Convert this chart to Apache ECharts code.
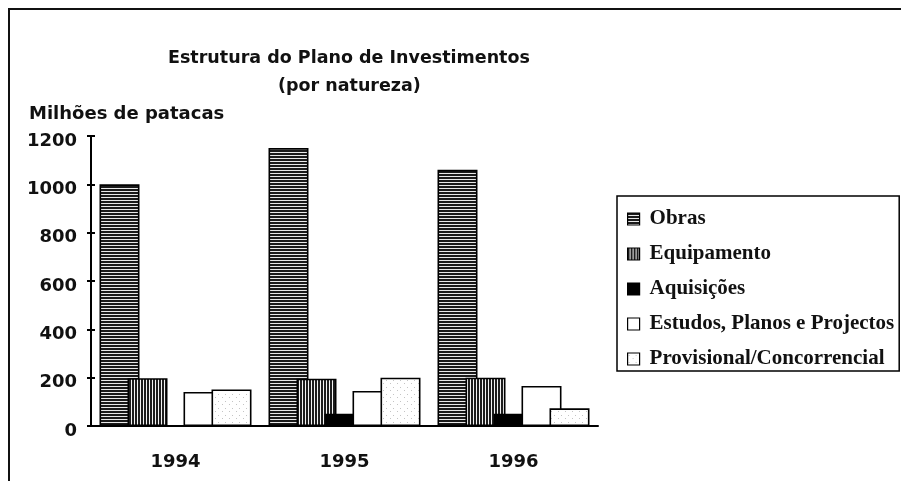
<html>
<head>
<meta charset="utf-8">
<title>Estrutura do Plano de Investimentos</title>
<script src="https://cdn.jsdelivr.net/npm/echarts@6/dist/echarts.min.js"></script>
<style>
  html, body { margin: 0; padding: 0; background: #fff; }
  #chart { width: 901px; height: 481px; }
</style>
</head>
<body>
<div id="chart"></div>
<script type="text/javascript">
// dados (milhões de patacas)
var anos = ['1994', '1995', '1996'];
var obras = [1000, 1150, 1060];
var equipamento = [198, 196, 200];
var aquisicoes = [0, 51, 51];
var estudos = [141, 145, 166];
var provisional = [151, 200, 73];
var yTicks = [0, 200, 400, 600, 800, 1000, 1200];

var sans = 'DejaVu Sans';
var serif = 'Liberation Serif';

// tramas das barras (pequenos canvas repetidos)
function trama(w, h, desenha) {
    var c = document.createElement('canvas');
    c.width = w;
    c.height = h;
    var ctx = c.getContext('2d');
    desenha(ctx);
    return { image: c, repeat: 'repeat' };
}

var tramaObras = trama(1, 3, function (ctx) {
    ctx.fillStyle = '#1a1a1a';
    ctx.fillRect(0, 0, 1, 3);
    ctx.fillStyle = '#e8e8e8';
    ctx.fillRect(0, 2, 1, 1);
});
var tramaEquip = trama(3, 1, function (ctx) {
    ctx.fillStyle = '#f4f4f4';
    ctx.fillRect(0, 0, 3, 1);
    ctx.fillStyle = '#1e1e1e';
    ctx.fillRect(0, 0, 2, 1);
});
var tramaProv = trama(7, 7, function (ctx) {
    ctx.fillStyle = '#fff';
    ctx.fillRect(0, 0, 7, 7);
    ctx.fillStyle = '#c4c4c4';
    ctx.fillRect(1, 2, 1, 1);
    ctx.fillRect(5, 5, 1, 1);
});

var dom = document.getElementById('chart');
var myChart = echarts.init(dom);

function estilo(cor) {
    return { color: cor, borderColor: '#000', borderWidth: 1.6 };
}

var option = {
    animation: false,
    grid: {
        left: 91,
        right: 303,
        top: 136,
        bottom: 55
    },
    graphic: [
        {   // moldura da página (topo e esquerda)
            type: 'polyline',
            shape: { points: [[9, 481], [9, 9], [901, 9]] },
            style: { stroke: '#111', lineWidth: 2, fill: null }
        },
        {
            type: 'text',
            style: {
                text: 'Estrutura do Plano de Investimentos',
                x: 168, y: 58,
                textVerticalAlign: 'middle',
                font: 'bold 17.5px "DejaVu Sans"',
                fill: '#111'
            }
        },
        {
            type: 'text',
            style: {
                text: '(por natureza)',
                x: 278, y: 86,
                textVerticalAlign: 'middle',
                font: 'bold 17.5px "DejaVu Sans"',
                fill: '#111'
            }
        },
        {
            type: 'text',
            style: {
                text: 'Milhões de patacas',
                x: 29, y: 114,
                textVerticalAlign: 'middle',
                font: 'bold 18px "DejaVu Sans"',
                fill: '#111'
            }
        }
    ],
    legend: {
        orient: 'vertical',
        left: 617,
        top: 196,
        icon: 'rect',
        itemWidth: 12,
        itemHeight: 12,
        itemGap: 13,
        padding: [12, 5, 1, 10],
        borderColor: '#000',
        borderWidth: 1.5,
        itemStyle: { borderColor: '#000', borderWidth: 1.2 },
        textStyle: {
            fontFamily: serif,
            fontWeight: 'bold',
            fontSize: 21,
            lineHeight: 22,
            color: '#111',
            padding: [0, 0, 0, 5]
        }
    },
    xAxis: [
        {
            type: 'category',
            data: anos,
            axisLine: { lineStyle: { color: '#000', width: 2 } },
            axisTick: { length: 4, lineStyle: { color: '#000', width: 2 } },
            axisLabel: {
                margin: 27,
                fontFamily: sans,
                fontWeight: 'bold',
                fontSize: 18,
                color: '#111'
            }
        },
        {   // marcas do lado de dentro
            type: 'category',
            data: anos,
            position: 'bottom',
            axisLine: { show: false },
            axisTick: { inside: true, length: 4, lineStyle: { color: '#000', width: 2 } },
            axisLabel: { show: false }
        }
    ],
    yAxis: [
        {
            type: 'value',
            min: yTicks[0],
            max: yTicks[yTicks.length - 1],
            interval: 200,
            axisLine: { show: true, lineStyle: { color: '#000', width: 2 } },
            axisTick: { show: true, length: 4, lineStyle: { color: '#000', width: 2 } },
            splitLine: { show: false },
            axisLabel: {
                margin: 14,
                verticalAlign: 'top',
                lineHeight: 10,
                fontFamily: sans,
                fontWeight: 'bold',
                fontSize: 18,
                color: '#111',
                formatter: function (v) { return String(v); }
            }
        },
        {
            type: 'value',
            position: 'left',
            min: yTicks[0],
            max: yTicks[yTicks.length - 1],
            interval: 200,
            axisLine: { show: false },
            axisTick: { show: true, inside: true, length: 4, lineStyle: { color: '#000', width: 2 } },
            splitLine: { show: false },
            axisLabel: { show: false }
        }
    ],
    series: [
        {
            name: 'Obras',
            type: 'bar',
            barWidth: 40,
            barGap: '-30%',
            data: obras,
            itemStyle: estilo(tramaObras)
        },
        {
            name: 'Equipamento',
            type: 'bar',
            barWidth: 40,
            barGap: '-30%',
            data: equipamento,
            itemStyle: estilo(tramaEquip)
        },
        {
            name: 'Aquisições',
            type: 'bar',
            barWidth: 40,
            barGap: '-30%',
            data: aquisicoes,
            itemStyle: estilo('#000')
        },
        {
            name: 'Estudos, Planos e Projectos',
            type: 'bar',
            barWidth: 40,
            barGap: '-30%',
            data: estudos,
            itemStyle: estilo('#fff')
        },
        {
            name: 'Provisional/Concorrencial',
            type: 'bar',
            barWidth: 40,
            barGap: '-30%',
            data: provisional,
            itemStyle: estilo(tramaProv)
        }
    ]
};

if (option && typeof option === 'object') {
    myChart.setOption(option, true);
}
</script>
</body>
</html>
